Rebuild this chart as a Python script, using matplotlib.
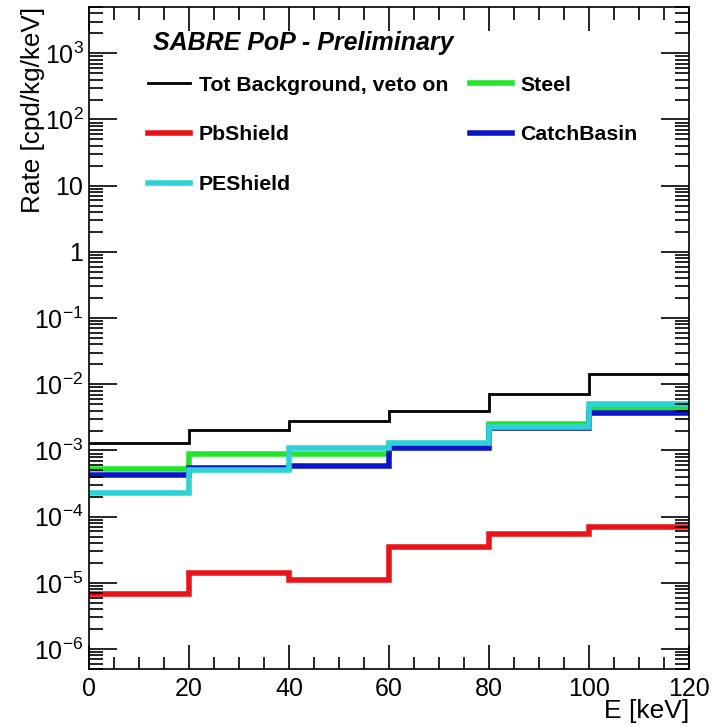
import matplotlib
matplotlib.use("Agg")
import matplotlib.pyplot as plt
from matplotlib.ticker import LogLocator, MultipleLocator, FixedLocator, FixedFormatter, NullFormatter
from matplotlib.lines import Line2D
import numpy as np

plt.rcParams['font.family'] = ['Liberation Sans', 'DejaVu Sans']
plt.rcParams['mathtext.fontset'] = 'custom'
plt.rcParams['mathtext.rm'] = 'Liberation Sans'

edges = [0, 20, 40, 60, 80, 100, 120]
tot_bkg = [1.28e-3, 2.07e-3, 2.83e-3, 4.0e-3, 7.2e-3, 1.42e-2]
pb_shield = [6.8e-6, 1.42e-5, 1.11e-5, 3.5e-5, 5.5e-5, 7.0e-5]
steel = [5.3e-4, 9.0e-4, 8.9e-4, 1.2e-3, 2.55e-3, 4.45e-3]
catch_basin = [4.3e-4, 5.5e-4, 5.9e-4, 1.1e-3, 2.15e-3, 3.7e-3]
pe_shield = [2.25e-4, 5.0e-4, 1.1e-3, 1.28e-3, 2.3e-3, 5.1e-3]

ytick_vals = [1e-6, 1e-5, 1e-4, 1e-3, 1e-2, 1e-1, 1, 10, 1e2, 1e3]
ytick_labels = [r'$10^{-6}$', r'$10^{-5}$', r'$10^{-4}$', r'$10^{-3}$', r'$10^{-2}$',
                r'$10^{-1}$', '1', '10', r'$10^{2}$', r'$10^{3}$']

fig = plt.figure(figsize=(7.24, 7.27), dpi=100)
ax = fig.add_axes([89/724, 1 - 669/727, 600/724, 662/727])

h_tot = ax.stairs(tot_bkg, edges, color='black', lw=2, baseline=None, label='Tot Background, veto on')
h_pb = ax.stairs(pb_shield, edges, color='#e8141a', lw=4, baseline=None, label='PbShield')
h_st = ax.stairs(steel, edges, color='#22e62a', lw=4, baseline=None, label='Steel')
h_cb = ax.stairs(catch_basin, edges, color='#0a14c8', lw=4, baseline=None, label='CatchBasin')
h_pe = ax.stairs(pe_shield, edges, color='#2ed2d6', lw=4, baseline=None, label='PEShield')

ax.set_yscale('log')
ax.set_xlim(0, 120)
ax.set_ylim(5e-7, 5e3)

ax.xaxis.set_major_locator(MultipleLocator(20))
ax.xaxis.set_minor_locator(MultipleLocator(5))
ax.yaxis.set_major_locator(FixedLocator(ytick_vals))
ax.yaxis.set_major_formatter(FixedFormatter(ytick_labels))
ax.yaxis.set_minor_locator(LogLocator(base=10, subs=np.arange(2, 10), numticks=30))
ax.yaxis.set_minor_formatter(NullFormatter())

ax.tick_params(which='both', direction='in', top=True, right=True, width=1.2, colors='black')
ax.tick_params(which='major', axis='x', length=17, labelsize=18, pad=6)
ax.tick_params(which='minor', axis='x', length=9)
ax.tick_params(which='major', axis='y', length=20, labelsize=18, pad=4)
ax.tick_params(which='minor', axis='y', length=10)
for sp in ax.spines.values():
    sp.set_linewidth(1.2)

ax.set_xlabel('E [keV]', fontsize=19, loc='right')
ax.xaxis.set_label_coords(1.0, -0.046)
ax.set_ylabel('Rate [cpd/kg/keV]', fontsize=18.8, loc='top')
ax.yaxis.set_label_coords(-0.073, 1.0)

ax.text(0.107, 0.945, 'SABRE PoP - Preliminary', transform=ax.transAxes,
        fontsize=18, fontweight='bold', fontstyle='italic', va='center', ha='left')

handles = [h_tot, h_pb, h_pe, h_st, h_cb]
proxies = [Line2D([], [], color=h.get_edgecolor(), lw=h.get_linewidth()) for h in handles]
labels = [h.get_label() for h in handles]
leg = ax.legend(proxies, labels, ncol=2, loc='upper left', bbox_to_anchor=(0.098, 0.896),
                frameon=False, borderpad=0, borderaxespad=0,
                labelspacing=1.44, handlelength=2.0, handletextpad=0.4, columnspacing=1.0,
                prop={'weight': 'bold', 'size': 15.3})

fig.savefig('out.png', dpi=100)
